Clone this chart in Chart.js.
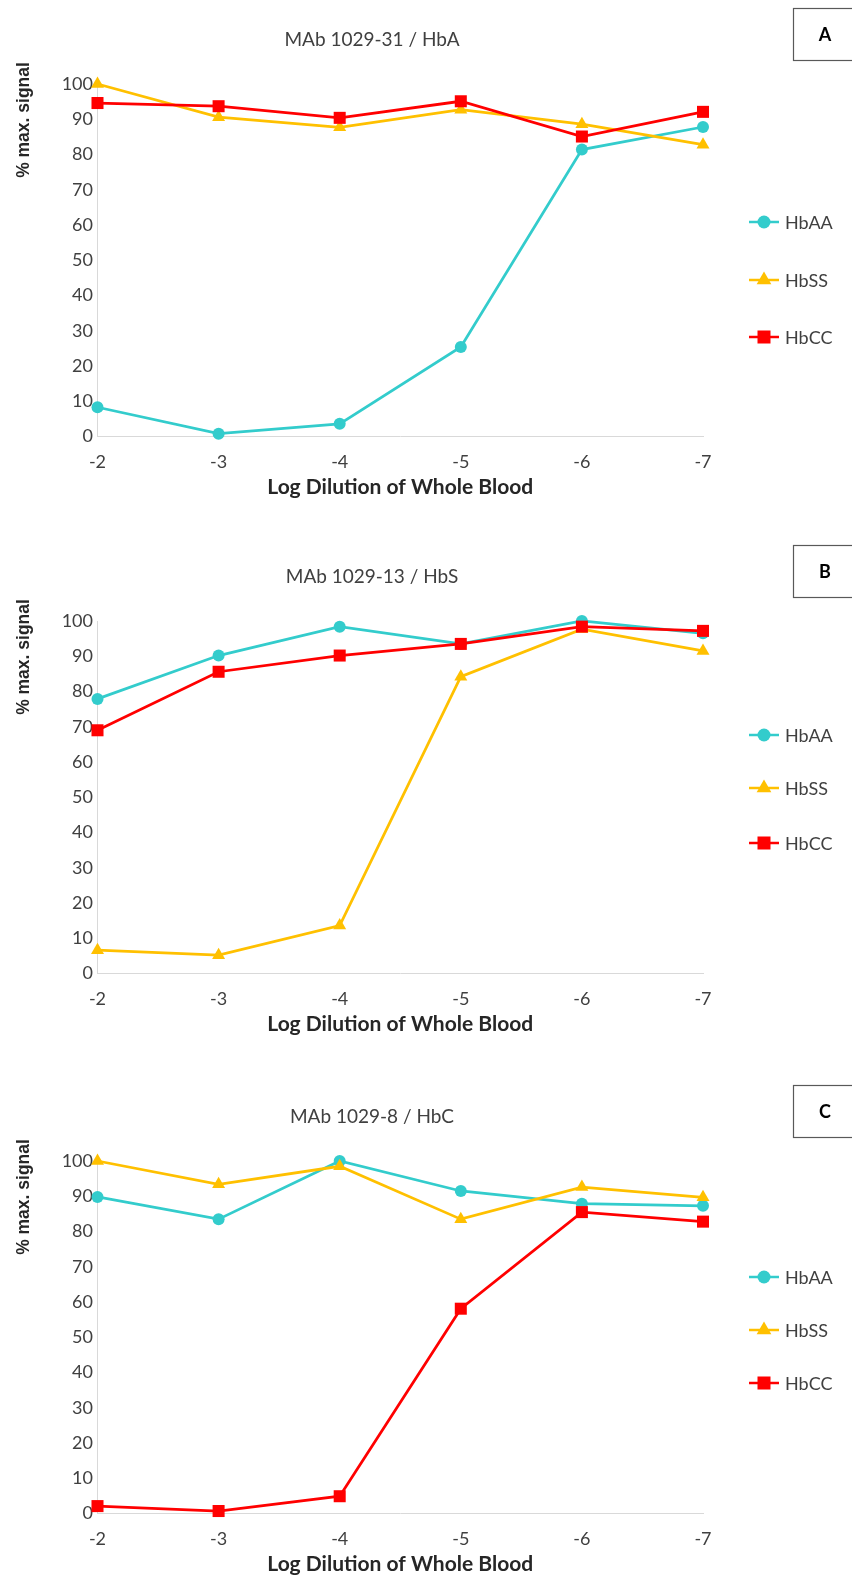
<!DOCTYPE html>
<html>
<head>
<meta charset="utf-8">
<script src="https://cdn.jsdelivr.net/npm/chart.js@4.4.1/dist/chart.umd.min.js"></script>
<style>
  html, body { margin: 0; padding: 0; background: #ffffff; }
  body { width: 852px; height: 1575px; position: relative; overflow: hidden; }
  .panel { position: absolute; left: 0; width: 852px; }
  canvas { display: block; }
</style>
</head>
<body>
<div class="panel" style="top:0px;height:537px"><canvas id="chartA" width="852" height="537"></canvas></div>
<div class="panel" style="top:537px;height:540px"><canvas id="chartB" width="852" height="540"></canvas></div>
<div class="panel" style="top:1077px;height:498px"><canvas id="chartC" width="852" height="498"></canvas></div>

<script>
// Log dilution of whole blood (x categories)
const dilutions = ['-2', '-3', '-4', '-5', '-6', '-7'];
const seriesNames = ['HbAA', 'HbSS', 'HbCC'];
const yMin = 0, yMax = 100, yStep = 10;

// Panel A: MAb 1029-31 / HbA
const titleA = 'MAb 1029-31 / HbA';
const hbaaA = [8.3, 0.8, 3.6, 25.4, 81.4, 87.8];
const hbssA = [100, 90.6, 87.7, 92.7, 88.6, 82.8];
const hbccA = [94.6, 93.7, 90.4, 95.1, 85.1, 92.1];

// Panel B: MAb 1029-13 / HbS
const titleB = 'MAb 1029-13 / HbS';
const hbaaB = [77.9, 90.2, 98.4, 93.5, 100, 96.5];
const hbssB = [6.6, 5.2, 13.6, 84.2, 97.7, 91.5];
const hbccB = [69.0, 85.6, 90.2, 93.5, 98.4, 97.2];

// Panel C: MAb 1029-8 / HbC
const titleC = 'MAb 1029-8 / HbC';
const hbaaC = [89.8, 83.5, 100, 91.5, 87.9, 87.3];
const hbssC = [100, 93.4, 98.5, 83.5, 92.6, 89.7];
const hbccC = [2.1, 0.7, 4.9, 58.1, 85.5, 82.8];

const COLORS = ['#33cccc', '#ffc000', '#ff0000'];
const STYLES = ['circle', 'triangle', 'rect'];
const RADII = [6, 7.5, 8.5];
const LEGEND_RADII = [6.5, 8.5, 9.2];
const TEXT = '#404040';
const AXIS = '#d9d9d9';

function drawMarker(ctx, style, x, y, r, color) {
  ctx.save();
  ctx.fillStyle = color;
  ctx.beginPath();
  if (style === 'circle') {
    ctx.arc(x, y, r, 0, Math.PI * 2);
  } else if (style === 'triangle') {
    ctx.moveTo(x, y - r);
    ctx.lineTo(x + r * Math.sin(Math.PI / 3), y + r / 2);
    ctx.lineTo(x - r * Math.sin(Math.PI / 3), y + r / 2);
    ctx.closePath();
  } else {
    const s = r * Math.SQRT1_2;
    ctx.rect(x - s, y - s, 2 * s, 2 * s);
  }
  ctx.fill();
  ctx.restore();
}

// Titles, axis titles, panel letter and legend
const panelDecor = {
  id: 'panelDecor',
  afterDraw(chart, args, opts) {
    const ctx = chart.ctx;
    const area = chart.chartArea;
    ctx.save();

    // chart title
    ctx.fillStyle = TEXT;
    ctx.font = '19px Lato';
    ctx.textAlign = 'center';
    ctx.textBaseline = 'middle';
    ctx.fillText(opts.title, 372, 40);

    // x axis title
    ctx.font = 'bold 21px Lato';
    ctx.fillStyle = '#262626';
    ctx.fillText('Log Dilution of Whole Blood', (area.left + area.right) / 2, area.bottom + 51);

    // y axis title
    ctx.save();
    ctx.translate(24, 120);
    ctx.rotate(-Math.PI / 2);
    ctx.font = 'bold 17.5px "Liberation Sans"';
    ctx.fillStyle = '#262626';
    ctx.fillText('% max. signal', 0, 0);
    ctx.restore();

    // panel letter box
    ctx.strokeStyle = '#595959';
    ctx.lineWidth = 1.2;
    ctx.strokeRect(793.5, 8.5, 80, 52);
    ctx.font = 'bold 18px Lato';
    ctx.fillStyle = '#000000';
    ctx.fillText(opts.letter, 825, 35);

    // legend
    chart.data.datasets.forEach((ds, i) => {
      const y = opts.legendY[i];
      ctx.strokeStyle = ds.borderColor;
      ctx.lineWidth = 2.5;
      ctx.beginPath();
      ctx.moveTo(749, y);
      ctx.lineTo(779, y);
      ctx.stroke();
      drawMarker(ctx, ds.pointStyle, 764, y, LEGEND_RADII[i], ds.borderColor);
      ctx.font = '18px Lato';
      ctx.fillStyle = TEXT;
      ctx.textAlign = 'left';
      ctx.fillText(ds.label, 785, y + 1);
      ctx.textAlign = 'center';
    });
    ctx.restore();
  }
};

function makePanel(id, height, title, letter, legendY, series) {
  const datasets = series.map((vals, i) => ({
    label: seriesNames[i],
    data: vals,
    borderColor: COLORS[i],
    backgroundColor: COLORS[i],
    pointBackgroundColor: COLORS[i],
    pointBorderColor: COLORS[i],
    pointBorderWidth: 0,
    pointStyle: STYLES[i],
    pointRadius: RADII[i],
    pointHoverRadius: RADII[i],
    borderWidth: 2.75,
    tension: 0,
    clip: false,
    order: 3 - i
  }));
  return new Chart(document.getElementById(id), {
    type: 'line',
    data: { labels: dilutions, datasets },
    plugins: [panelDecor],
    options: {
      responsive: false,
      animation: false,
      devicePixelRatio: 1,
      layout: { padding: { top: 84, left: 0, right: 149, bottom: height - 436.5 - 50 } },
      plugins: {
        legend: { display: false },
        title: { display: false },
        tooltip: { enabled: false },
        panelDecor: { title, letter, legendY }
      },
      scales: {
        x: {
          type: 'category',
          offset: false,
          grid: { display: false, drawTicks: false },
          border: { display: true, color: AXIS, width: 1 },
          ticks: { color: TEXT, font: { family: 'Lato', size: 18 }, padding: 15, maxRotation: 0, autoSkip: false },
          afterFit(s) { s.height = 50; }
        },
        y: {
          min: yMin,
          max: yMax,
          grid: { display: false, drawTicks: false },
          border: { display: true, color: AXIS, width: 1 },
          ticks: { stepSize: yStep, color: TEXT, font: { family: 'Lato', size: 18 }, padding: 4.5 },
          afterFit(s) { s.width = 97.5; }
        }
      }
    }
  });
}

makePanel('chartA', 537, titleA, 'A', [222, 280, 337], [hbaaA, hbssA, hbccA]);
makePanel('chartB', 540, titleB, 'B', [198, 251, 306], [hbaaB, hbssB, hbccB]);
makePanel('chartC', 498, titleC, 'C', [200, 253, 306], [hbaaC, hbssC, hbccC]);
</script>
</body>
</html>
